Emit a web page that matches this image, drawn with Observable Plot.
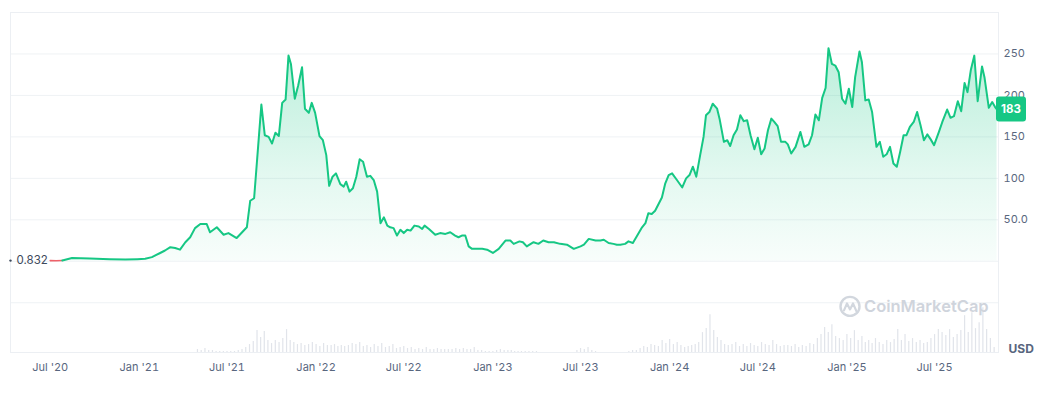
<!DOCTYPE html>
<html><head><meta charset="utf-8">
<script src="https://cdn.jsdelivr.net/npm/d3@7"></script>
<script src="https://cdn.jsdelivr.net/npm/@observablehq/plot@0.6"></script>
<style>
body{margin:0;background:#fff;}
#chart{position:relative;width:1044px;height:399px;}
</style></head><body><div id="chart"></div>
<script>
const priceDates = [
"2020-07-01","2020-07-13","2020-07-26","2020-08-15","2020-09-21","2020-11-01","2020-12-03","2020-12-28",
"2021-01-13","2021-01-27","2021-02-13","2021-02-23","2021-03-06","2021-03-16","2021-03-26","2021-04-06","2021-04-16","2021-04-26",
"2021-05-07","2021-05-20","2021-05-27","2021-06-10","2021-06-24","2021-07-04","2021-07-21","2021-08-11","2021-08-18","2021-08-26",
"2021-09-10","2021-09-17","2021-09-25","2021-10-02","2021-10-09","2021-10-16","2021-10-23","2021-10-30","2021-11-05","2021-11-10",
"2021-11-18","2021-11-25","2021-12-03","2021-12-09","2021-12-17","2021-12-23","2021-12-30",
"2022-01-08","2022-01-15","2022-01-22","2022-01-28","2022-02-04","2022-02-11","2022-02-20","2022-02-27","2022-03-04","2022-03-11",
"2022-03-18","2022-03-25","2022-04-01","2022-04-08","2022-04-16","2022-04-23","2022-04-30","2022-05-07","2022-05-14","2022-05-21",
"2022-05-28","2022-06-03","2022-06-10","2022-06-17","2022-06-24","2022-07-01","2022-07-08","2022-07-15","2022-07-23","2022-08-01",
"2022-08-08","2022-08-13","2022-08-22","2022-09-04","2022-09-14","2022-09-25","2022-10-05","2022-10-15","2022-10-22","2022-10-29",
"2022-11-05","2022-11-12","2022-11-19","2022-11-29","2022-12-10","2022-12-20",
"2023-01-01","2023-01-13","2023-01-27","2023-02-06","2023-02-13","2023-02-25","2023-03-04","2023-03-12","2023-03-26","2023-04-05",
"2023-04-15","2023-04-26","2023-05-07","2023-05-20","2023-06-03","2023-06-17","2023-07-01","2023-07-08","2023-07-18","2023-08-01",
"2023-08-11","2023-08-18","2023-08-28","2023-09-07","2023-09-14","2023-09-21","2023-10-01","2023-10-08","2023-10-17","2023-10-24",
"2023-11-05","2023-11-12","2023-11-18","2023-11-25","2023-12-02","2023-12-16","2023-12-23","2023-12-30",
"2024-01-06","2024-01-16","2024-01-27","2024-02-04","2024-02-11","2024-02-18","2024-02-25","2024-03-04","2024-03-11","2024-03-16",
"2024-03-23","2024-03-30","2024-04-08","2024-04-13","2024-04-22","2024-04-29","2024-05-05","2024-05-12","2024-05-19","2024-05-26",
"2024-06-02","2024-06-09","2024-06-16","2024-06-24","2024-07-01","2024-07-08","2024-07-15","2024-07-22","2024-07-29","2024-08-04",
"2024-08-11","2024-08-18","2024-08-27","2024-09-01","2024-09-08","2024-09-17","2024-09-27","2024-10-05","2024-10-14","2024-10-21",
"2024-10-28","2024-11-04","2024-11-11","2024-11-18","2024-11-24","2024-12-01","2024-12-08","2024-12-15","2024-12-22","2024-12-29",
"2025-01-05","2025-01-12","2025-01-18","2025-01-27","2025-02-01","2025-02-08","2025-02-15","2025-02-22","2025-03-03","2025-03-10",
"2025-03-17","2025-03-24","2025-03-31","2025-04-07","2025-04-14","2025-04-21","2025-04-28","2025-05-04","2025-05-11","2025-05-19",
"2025-05-26","2025-06-02","2025-06-09","2025-06-16","2025-06-23","2025-06-30","2025-07-10","2025-07-17","2025-07-27","2025-08-03",
"2025-08-10","2025-08-18","2025-08-25","2025-09-01","2025-09-07","2025-09-14","2025-09-21","2025-09-28","2025-10-07","2025-10-12",
"2025-10-21","2025-10-28","2025-11-03","2025-11-07"];
const priceValues = [
0.832,0.6,0.9,4,3.5,2.5,2,2.5,
3,5,10,13,17,16,14,23,29,40,
45,45,35,41,32,34,28,41,73,76,
189,152,150,142,155,151,191,195,248,238,
196,212,234,184,179,191,179,
151,146,128,91,102,106,93,90,96,84,
88,102,123,120,102,103,98,84,46,53,
43,41,40,31,38,34,38,37,43,42,
39,43,39,32,34,33,35,31,29,31,
31,18,15,15,15,14,
10,15,25,25,21,24,23,18,23,21,
25,23,23,21,20,15,18,20,27,25,
25,26,22,21,20,20,21,24,22,29,
41,46,58,57,61,77,94,104,
106,98,89,100,104,114,102,128,150,176,
180,190,184,172,144,146,139,152,159,176,
169,170,152,135,149,129,136,158,172,168,
163,144,144,141,130,138,156,138,141,152,
177,170,197,209,257,238,236,228,196,190,
208,186,222,253,240,194,195,180,138,144,
126,129,138,118,114,132,152,152,162,168,
180,164,146,153,147,140,156,168,183,173,
175,193,181,215,204,231,248,193,235,222,
185,192,186,183];

const xTickDates = ["2020-07-01","2021-01-01","2021-07-01","2022-01-01","2022-07-01","2023-01-01","2023-07-01","2024-01-01","2024-07-01","2025-01-01","2025-07-01"];
const yTicks = [50, 100, 150, 200, 250];
const yTickLabels = ["50.0", "100", "150", "200", "250"];
const gridValues = [-50, 0, 50, 100, 150, 200, 250];
const startPrice = 0.832;
const lastPrice = 183;
const currencyLabel = "USD";
const watermarkText = "CoinMarketCap";

const volMonths = ["2021-05","2021-06","2021-07","2021-08","2021-09","2021-10","2021-11","2021-12",
"2022-01","2022-02","2022-03","2022-04","2022-05","2022-06","2022-07","2022-08","2022-09","2022-10","2022-11","2022-12",
"2023-01","2023-02","2023-03","2023-04","2023-05","2023-06","2023-07","2023-08","2023-09","2023-10","2023-11","2023-12",
"2024-01","2024-02","2024-03","2024-04","2024-05","2024-06","2024-07","2024-08","2024-09","2024-10","2024-11","2024-12",
"2025-01","2025-02","2025-03","2025-04","2025-05","2025-06","2025-07","2025-08","2025-09","2025-10","2025-11"];
const volWeeks = [[3,2,4,2],[2,1,1,1],[1,1,1,2],[3,5,8,11],[22,15,21,12],[9,12,10,14],[23,12,10,8],[9,7,8,10],
[8,6,9,7],[7,8,6,7],[6,7,9,8],[10,6,7,5],[8,6,9,5],[6,8,4,5],[6,4,5,3],[4,3,5,3],[3,4,3,3],[3,3,4,3],[4,3,3,5],[2,2,1,1],
[1,2,3,2],[2,2,1,1],[1,1,1,1],[1,0,0,0],[0,0,0,0],[0,0,0,2],[4,3,5,2],[1,0,0,0],[0,0,0,0],[0,1,2,2],[4,6,5,8],[7,6,12,9],
[13,8,10,7],[5,6,7,8],[10,20,24,38],[22,15,12,8],[7,8,10,6],[8,6,9,7],[6,10,8,7],[12,8,6,7],[7,6,8,5],[7,6,9,8],[14,18,25,20],[28,16,14,12],
[18,14,22,12],[16,10,12,9],[14,10,8,12],[10,13,23,12],[18,11,14,10],[12,9,10,14],[18,23,20,17],[23,15,18,22],[37,20,40,24],[30,45,23,14],[5]];

const parse = d3.utcParse("%Y-%m-%d");
const parseMonth = d3.utcParse("%Y-%m");
const price = priceDates.map((d, i) => ({date: parse(d), value: priceValues[i]}));
const volume = volMonths.flatMap((m, i) => {
  const s = parseMonth(m), e = d3.utcMonth.offset(s, 1);
  return volWeeks[i].map((v, k) => ({date: new Date(+s + (e - s) * k / 4), v}));
});

const yMin = -110, yMax = 300, volK = 1.2;
const xDomain = [parse("2020-04-10"), parse("2025-11-10")];
const redPart = price.slice(0, 3);
const greenPart = price.slice(2);
const grey = "#58667e";
const green = "#16c784";

const plot = Plot.plot({
  width: 1044, height: 399,
  marginTop: 12, marginBottom: 47, marginLeft: 10, marginRight: 46,
  style: {fontFamily: "Inter, sans-serif", fontSize: "11px", color: grey, background: "#fff", overflow: "visible"},
  x: {type: "utc", domain: xDomain, label: null},
  y: {domain: [yMin, yMax], label: null},
  marks: [
    Plot.ruleY(gridValues, {stroke: "#eff2f5", strokeWidth: 1}),
    Plot.frame({stroke: "#eceff3"}),
    Plot.ruleX(volume, {x: "date", y1: yMin, y2: d => yMin + d.v * volK, stroke: "#e1e4ea", strokeWidth: 1.2}),
    Plot.areaY(greenPart, {x: "date", y1: 0, y2: "value", fill: "url(#areaGrad)"}),
    Plot.lineY(redPart, {x: "date", y: "value", stroke: "#ea3943", strokeWidth: 1.6, strokeOpacity: 0.8}),
    Plot.lineY(greenPart, {x: "date", y: "value", stroke: green, strokeWidth: 2, strokeLinejoin: "round"}),
    Plot.axisX(xTickDates.map(parse), {tickSize: 0, tickPadding: 11, tickFormat: d3.utcFormat("%b '%y"), fontSize: 11, label: null}),
    Plot.axisY(yTicks, {anchor: "right", tickSize: 0, tickPadding: 5, fontSize: 11, label: null, tickFormat: d => yTickLabels[yTicks.indexOf(d)]}),
    Plot.text([startPrice], {x: () => xDomain[0], y: d => d, text: d => String(d), textAnchor: "start", dx: 6, fontSize: 11.5, fill: "#3d4a5c"}),
    Plot.dot([startPrice], {x: () => xDomain[0], y: d => d, r: 1.2, fill: "#3d4a5c"}),
    Plot.text([currencyLabel], {frameAnchor: "bottom-right", text: d => d, textAnchor: "start", dx: 10, fontWeight: "bold", fontSize: 12})
  ]
});

const svg = d3.select(plot);
const ys = plot.scale("y"), xs = plot.scale("x");
const defs = svg.insert("defs", ":first-child");
const grad = defs.append("linearGradient").attr("id", "areaGrad")
  .attr("gradientUnits", "userSpaceOnUse").attr("x1", 0).attr("x2", 0)
  .attr("y1", ys.apply(260)).attr("y2", ys.apply(0));
grad.append("stop").attr("offset", 0).attr("stop-color", green).attr("stop-opacity", 0.3);
grad.append("stop").attr("offset", 0.6).attr("stop-color", green).attr("stop-opacity", 0.12);
grad.append("stop").attr("offset", 1).attr("stop-color", green).attr("stop-opacity", 0.03);

// watermark
const right = xs.range[1];
const wm = svg.append("g").attr("transform", `translate(${right - 148},${ys.apply(-55)})`).attr("text-anchor", "start");
wm.append("circle").attr("cx", 0).attr("cy", 0).attr("r", 9.5).attr("fill", "none").attr("stroke", "#d2d7de").attr("stroke-width", 2.4);
wm.append("path").attr("d", "M-6,4 L-3,-3 L0,3 L3,-3 L6.5,5").attr("fill", "none").attr("stroke", "#d2d7de").attr("stroke-width", 2.2).attr("stroke-linejoin", "round").attr("stroke-linecap", "round");
wm.append("text").attr("x", 14).attr("y", 6).attr("text-anchor", "start").attr("fill", "#cfd4dc").attr("font-size", 16.5).attr("font-weight", 600)
  .attr("font-family", "Inter, sans-serif").text(watermarkText);

// last price badge
const by = ys.apply(lastPrice);
const badge = svg.append("g");
badge.append("rect").attr("x", right - 2).attr("y", by - 12.5).attr("width", 30).attr("height", 25).attr("rx", 3).attr("fill", green);
badge.append("text").attr("x", right + 13).attr("y", by).attr("dy", "0.36em").attr("text-anchor", "middle")
  .attr("fill", "#fff").attr("font-weight", 700).attr("font-size", 11.5).attr("font-family", "Inter, sans-serif").text(lastPrice);

document.getElementById("chart").appendChild(plot);
</script></body></html>
